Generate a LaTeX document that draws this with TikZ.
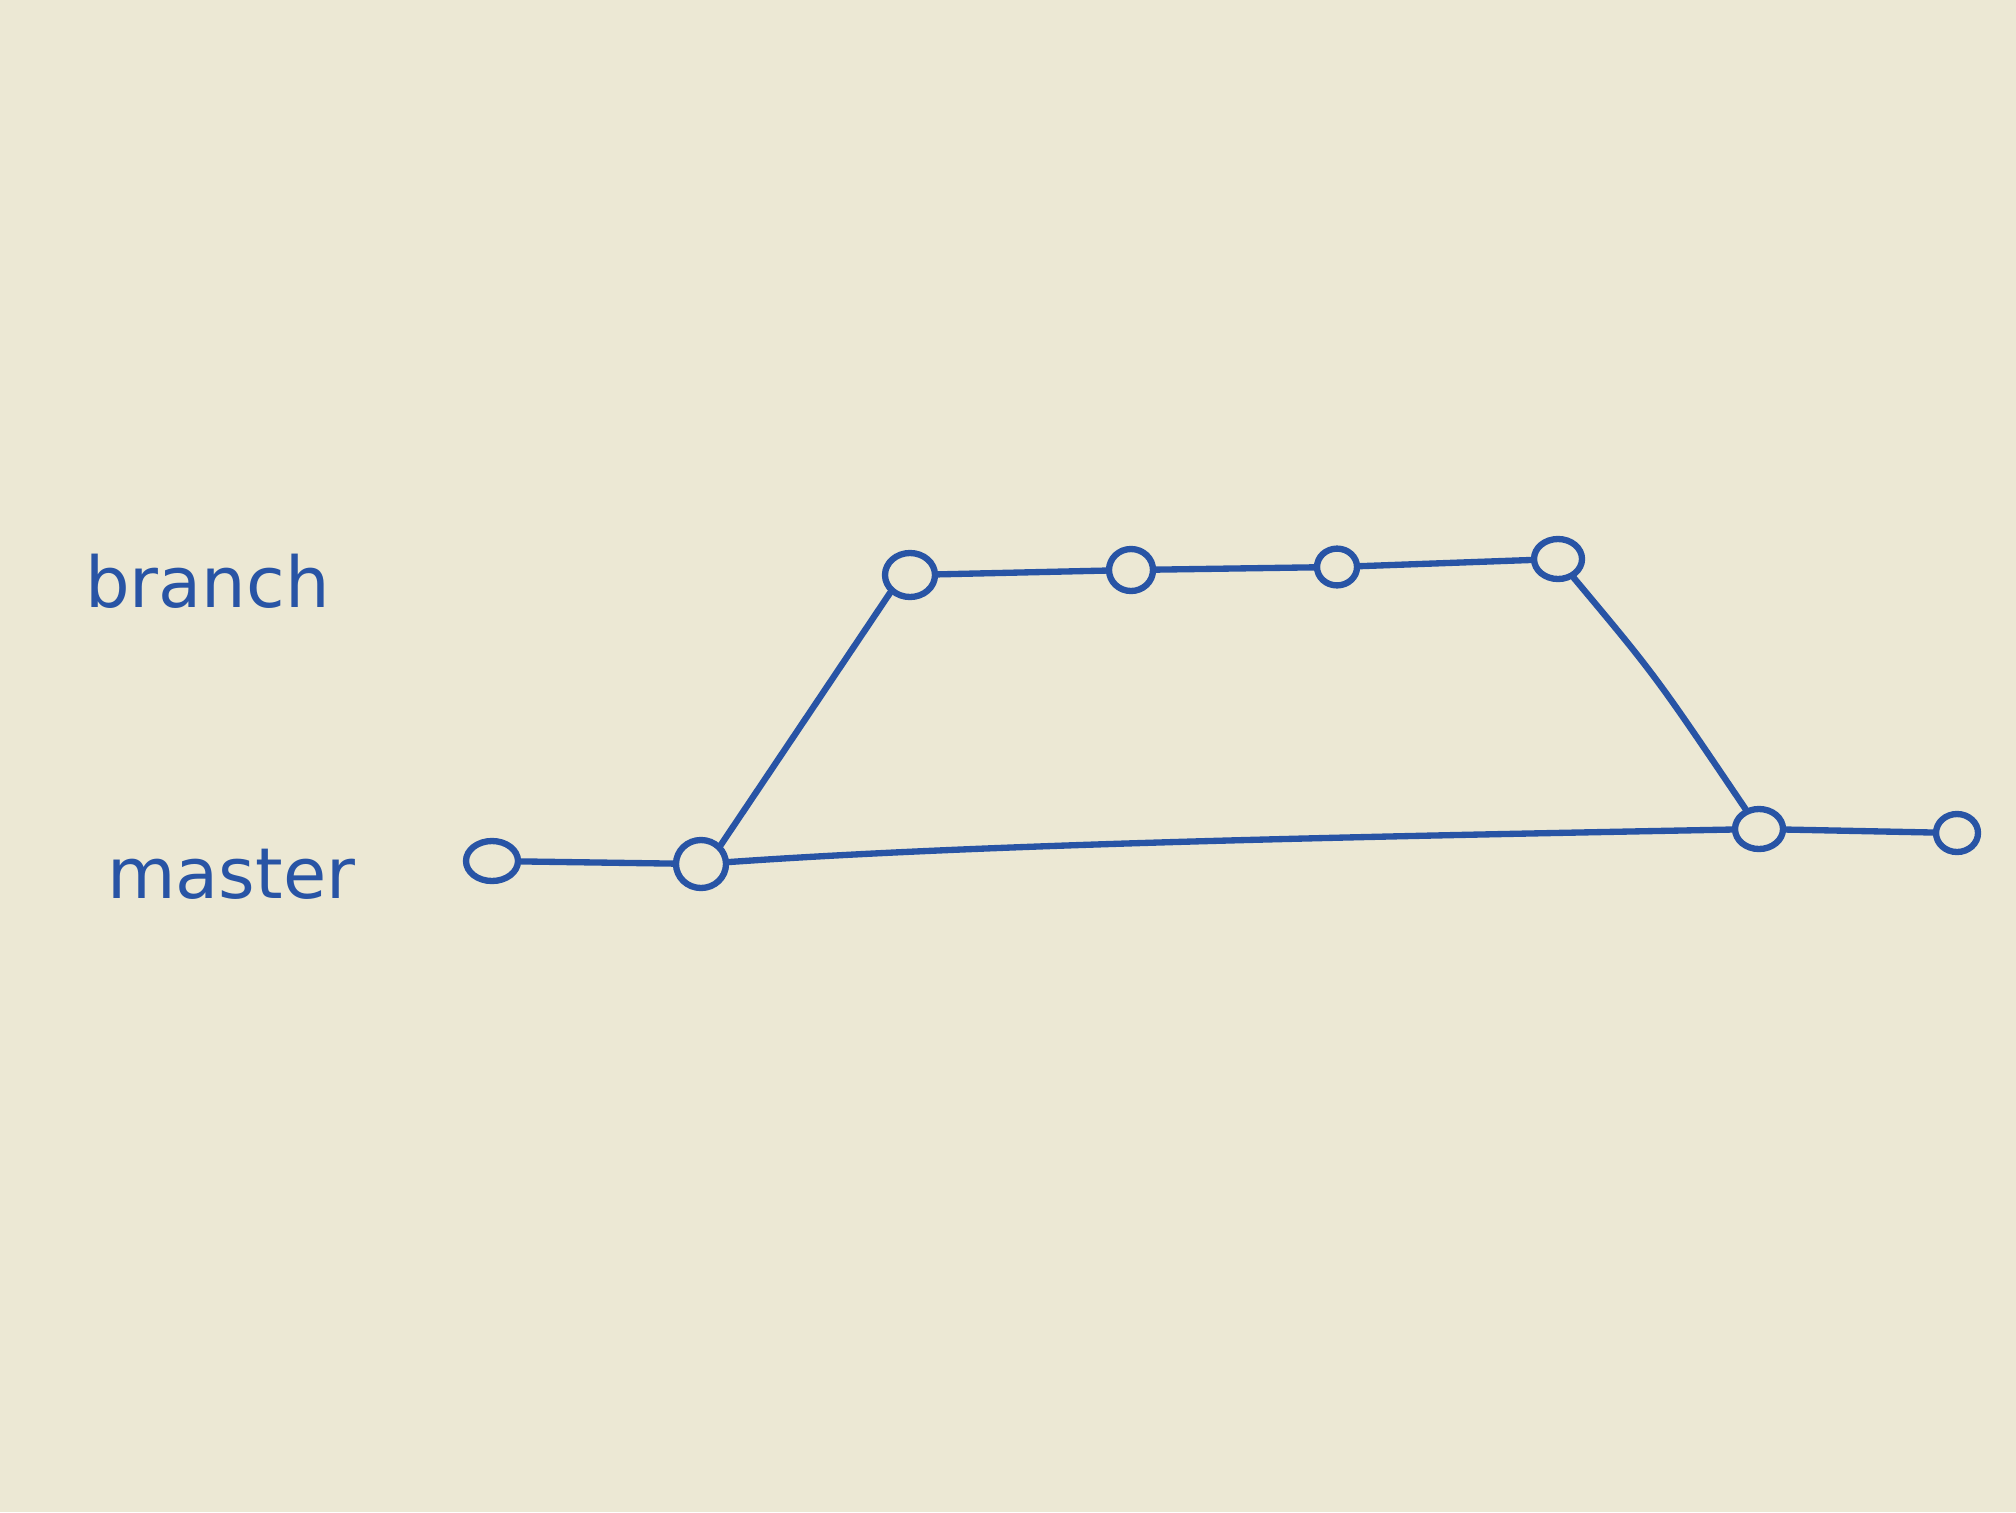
\documentclass[tikz,border=0pt]{standalone}
\usepackage{fontspec}
\setmainfont{DejaVu Sans}
\usetikzlibrary{shapes.geometric}
\definecolor{paper}{RGB}{236,232,212}
\definecolor{ink}{RGB}{40,84,165}
\begin{document}
\begin{tikzpicture}[x=0.025cm,y=-0.025cm,
  commit/.style={draw=ink, line width=4.5pt, ellipse, inner sep=0pt,
    minimum width=1.2cm, minimum height=1.0cm},
  link/.style={draw=ink, line width=4.5pt, line cap=round},
  lbl/.style={text=ink, font=\fontsize{50}{60}\selectfont, inner sep=0pt}]
\fill[paper] (0,0) rectangle (2016,1512);
\useasboundingbox (0,0) rectangle (2016,1512);
% labels
\node[lbl, anchor=base west] (lbranch) at (85,607) {branch};
\node[lbl, anchor=base west] (lmaster) at (107,898) {master};
% master commits
\node[commit, minimum width=1.3cm, minimum height=1.0cm] (m1) at (492,861) {};
\node[commit, minimum width=1.25cm, minimum height=1.2cm] (m2) at (701,864) {};
\node[commit, minimum width=1.2cm, minimum height=1.0cm] (m3) at (1759,829) {};
\node[commit, minimum width=1.05cm, minimum height=0.95cm] (m4) at (1957,833) {};
% branch commits
\node[commit, minimum width=1.25cm, minimum height=1.1cm] (b1) at (910,575) {};
\node[commit, minimum width=1.1cm, minimum height=1.05cm] (b2) at (1131,570) {};
\node[commit, minimum width=1.0cm, minimum height=0.92cm] (b3) at (1337,567) {};
\node[commit, minimum width=1.2cm, minimum height=1.0cm] (b4) at (1558,559) {};
% connectors
\draw[link] (m1) -- (m2);
\draw[link] (m2) .. controls (1000,843) and (1400,836) .. (m3);
\draw[link] (m3) -- (m4);
\draw[link] (m2.north east) -- (b1.south west);
\draw[link] (b1) -- (b2);
\draw[link] (b2) -- (b3);
\draw[link] (b3) -- (b4);
\draw[link] (b4) .. controls (1655,675) .. (m3);
\end{tikzpicture}
\end{document}
